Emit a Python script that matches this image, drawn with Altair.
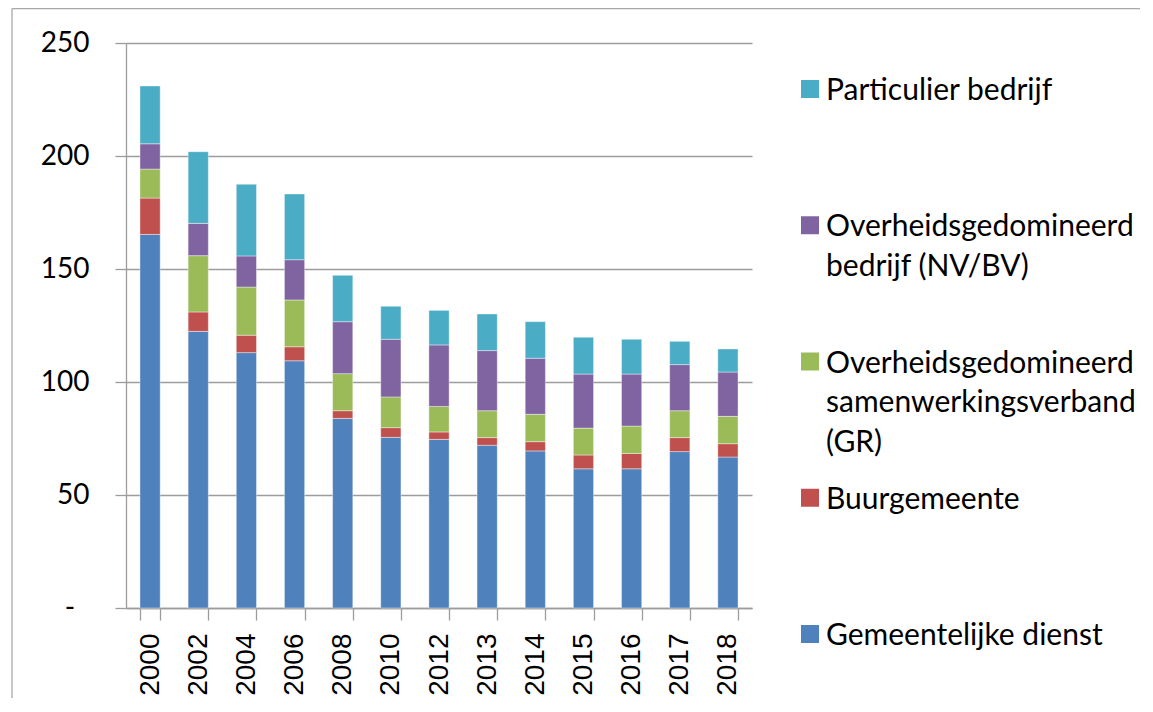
import altair as alt
import pandas as pd

years = ["2000", "2002", "2004", "2006", "2008", "2010", "2012",
         "2013", "2014", "2015", "2016", "2017", "2018"]

series = [
    "Gemeentelijke dienst",
    "Buurgemeente",
    "Overheidsgedomineerd samenwerkingsverband (GR)",
    "Overheidsgedomineerd bedrijf (NV/BV)",
    "Particulier bedrijf",
]
legend_labels = [
    "Gemeentelijke dienst",
    "Buurgemeente",
    "Overheidsgedomineerd\nsamenwerkingsverband\n(GR)",
    "Overheidsgedomineerd\nbedrijf (NV/BV)",
    "Particulier bedrijf",
]
colors = ["#4F81BD", "#C0504D", "#9BBB59", "#8064A2", "#4BACC6"]

gemeentelijke = [165.3, 122.4, 113.0, 109.4, 83.9, 75.5, 74.6, 72.0, 69.5, 61.6, 61.6, 69.2, 66.8]
buurgemeente = [16.1, 8.6, 7.7, 6.2, 3.4, 4.3, 3.3, 3.4, 4.1, 6.1, 6.8, 6.2, 5.9]
samenwerking = [12.8, 24.9, 21.3, 20.7, 16.4, 13.6, 11.3, 11.9, 12.1, 11.9, 12.1, 11.9, 12.1]
nvbv = [11.2, 14.3, 13.8, 17.8, 23.0, 25.5, 27.2, 26.6, 24.8, 23.9, 23.0, 20.4, 19.6]
particulier = [25.6, 31.7, 31.7, 29.1, 20.5, 14.6, 15.3, 16.2, 16.2, 16.3, 15.4, 10.3, 10.2]

values = [gemeentelijke, buurgemeente, samenwerking, nvbv, particulier]

rows = []
for si, (name, vals) in enumerate(zip(series, values)):
    for y, v in zip(years, vals):
        rows.append({"jaar": y, "reeks": name, "waarde": v, "volgorde": si})
df = pd.DataFrame(rows)

legend_df = pd.DataFrame({
    "reeks": series,
    "label": legend_labels,
})
legend_order = list(reversed(series))

W, H = 626, 565
grid_color = "#9c9c9c"

color_scale = alt.Scale(domain=series, range=colors)

bars = alt.Chart(df).mark_bar(
    stroke="#ffffff", strokeWidth=0.8, strokeOpacity=0.5
).encode(
    x=alt.X("jaar:N", sort=years, title=None,
            scale=alt.Scale(paddingInner=0.58, paddingOuter=0.29),
            axis=alt.Axis(labelAngle=270, labelAlign="right", labelBaseline="middle",
                          labelFont="Liberation Sans", labelFontSize=28, labelColor="#000000",
                          labelPadding=13, tickBand="extent", tickSize=12,
                          tickColor=grid_color, tickWidth=1.3,
                          domainColor=grid_color, domainWidth=1.3, grid=False)),
    y=alt.Y("sum(waarde):Q", title=None, stack="zero",
            scale=alt.Scale(domain=[0, 250], nice=False),
            axis=alt.Axis(values=[0, 50, 100, 150, 200, 250],
                          labelExpr="datum.value == 0 ? '-\u00a0\u00a0\u200b' : datum.label",
                          labelFont="Lato", labelFontSize=28, labelColor="#000000",
                          labelPadding=26, tickSize=11, tickColor=grid_color, tickWidth=1.3,
                          domainColor=grid_color, domainWidth=1.3,
                          grid=True, gridColor=grid_color, gridWidth=1.3)),
    color=alt.Color("reeks:N", scale=color_scale, legend=None),
    order=alt.Order("volgorde:Q", sort="ascending"),
)

legend_y = alt.Y("reeks:N", sort=legend_order, axis=None,
                 scale=alt.Scale(type="point", domain=legend_order, range=[46, 591], padding=0))

legend_squares = alt.Chart(legend_df).mark_square(size=324, opacity=1).encode(
    x=alt.value(684),
    y=legend_y,
    color=alt.Color("reeks:N", scale=color_scale, legend=None),
)

legend_text = alt.Chart(legend_df).mark_text(
    align="left", baseline="alphabetic", dy=11, lineBreak="\n", lineHeight=39.5,
    font="Lato", fontSize=30, color="#000000"
).encode(
    x=alt.value(700),
    y=legend_y,
    text="label:N",
)

border_df = pd.DataFrame({"k": [0]})
border_left = alt.Chart(border_df).mark_rule(color="#a8a8a8", strokeWidth=1.3).encode(
    x=alt.value(-114), y=alt.value(-34.5), y2=alt.value(680)
)
border_top = alt.Chart(border_df).mark_rule(color="#a8a8a8", strokeWidth=1.3).encode(
    x=alt.value(-114), x2=alt.value(1020), y=alt.value(-34.5)
)

chart = alt.layer(bars, legend_squares, legend_text, border_left, border_top).resolve_scale(
    y="independent"
).properties(
    width=W, height=H,
    autosize=alt.AutoSizeParams(type="none"),
    padding={"left": 118, "top": 35, "right": 388, "bottom": 90},
).configure_view(stroke=None)

chart.save("out.html", embed_options={"renderer": "svg", "actions": False})
